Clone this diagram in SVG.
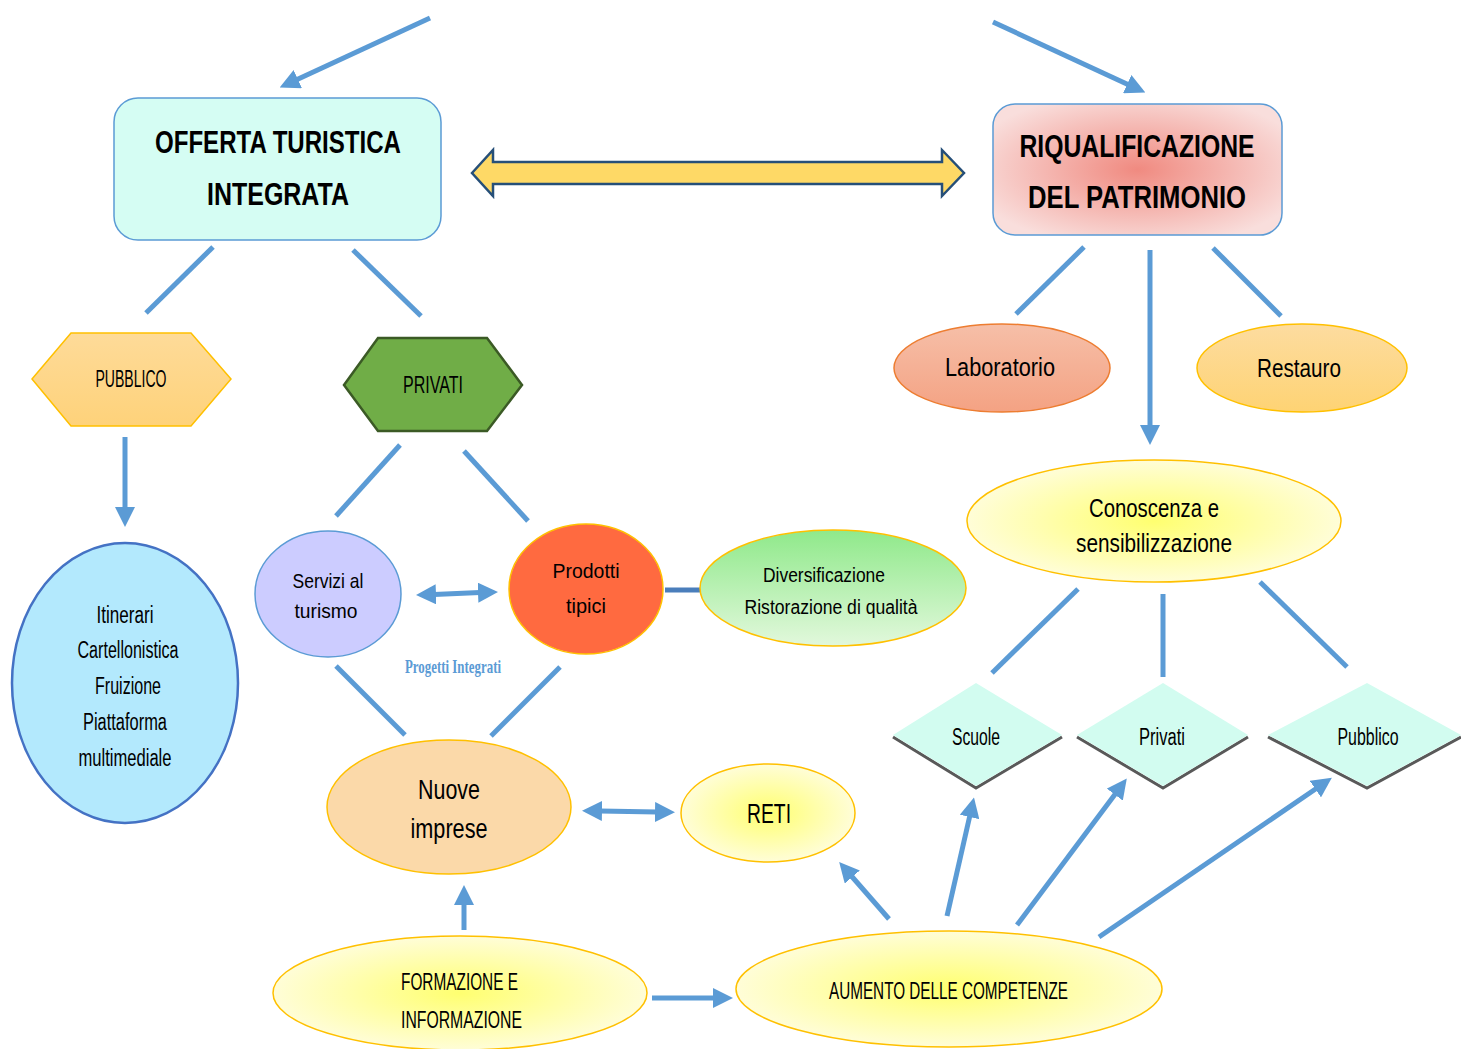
<svg xmlns="http://www.w3.org/2000/svg" width="1461" height="1049" viewBox="0 0 1461 1049">
<style>
  text { font-family: "Liberation Sans", Arial, sans-serif; fill: #000; text-anchor: middle; }
  .b { font-weight: bold; }
  .ln { stroke: #5b9bd5; stroke-width: 5; fill: none; }
  .ar { stroke: #5b9bd5; stroke-width: 5; fill: none; marker-end: url(#ah); }
  .da { stroke: #5b9bd5; stroke-width: 5; fill: none; marker-end: url(#ah); marker-start: url(#ahs); }
  .yel { fill: url(#gYel); stroke: #ffc000; stroke-width: 1.5; }
  .dia { fill: #d2fcf0; }
  .sh { fill: none; stroke: #595959; stroke-width: 3; }
</style>
<defs>
  <marker id="ah" viewBox="0 0 10 10" refX="1" refY="5" markerWidth="4" markerHeight="4" orient="auto" markerUnits="strokeWidth">
    <path d="M0,0 L10,5 L0,10 z" fill="#5b9bd5"/>
  </marker>
  <marker id="ahs" viewBox="0 0 10 10" refX="1" refY="5" markerWidth="4" markerHeight="4" orient="auto-start-reverse" markerUnits="strokeWidth">
    <path d="M0,0 L10,5 L0,10 z" fill="#5b9bd5"/>
  </marker>
  <radialGradient id="gRiq" cx="50%" cy="50%" r="60%">
    <stop offset="0" stop-color="#f08a80"/>
    <stop offset="1" stop-color="#f9dedc"/>
  </radialGradient>
  <radialGradient id="gYel" cx="50%" cy="50%" r="55%">
    <stop offset="0" stop-color="#ffff70"/>
    <stop offset="1" stop-color="#fffde2"/>
  </radialGradient>
  <linearGradient id="gLab" x1="0" y1="0" x2="0" y2="1">
    <stop offset="0" stop-color="#f6bfa8"/>
    <stop offset="1" stop-color="#f4a283"/>
  </linearGradient>
  <linearGradient id="gRes" x1="0" y1="0" x2="0" y2="1">
    <stop offset="0" stop-color="#fddca0"/>
    <stop offset="1" stop-color="#fed374"/>
  </linearGradient>
  <linearGradient id="gDiv" x1="0" y1="0" x2="0" y2="1">
    <stop offset="0" stop-color="#8fe98a"/>
    <stop offset="1" stop-color="#e2f8dc"/>
  </linearGradient>
  <linearGradient id="gPub" x1="0" y1="0" x2="0" y2="1">
    <stop offset="0" stop-color="#fedb99"/>
    <stop offset="1" stop-color="#fed27a"/>
  </linearGradient>
</defs>

<g id="connectors">
  <line class="ar" x1="430" y1="18" x2="296" y2="80"/>
  <line class="ar" x1="993" y1="22" x2="1129" y2="85"/>
  <line class="ln" x1="213" y1="247" x2="146" y2="313"/>
  <line class="ln" x1="353" y1="250" x2="421" y2="316"/>
  <line class="ar" x1="125" y1="437" x2="125" y2="509"/>
  <line class="ln" x1="400" y1="445" x2="336" y2="516"/>
  <line class="ln" x1="464" y1="451" x2="528" y2="521"/>
  <line class="da" x1="434" y1="594.4" x2="480" y2="592.6"/>
  <line x1="665" y1="590" x2="702" y2="590" stroke="#4a7ebb" stroke-width="5"/>
  <line class="ln" x1="336" y1="666" x2="405" y2="735"/>
  <line class="ln" x1="560" y1="667" x2="491" y2="736"/>
  <line class="da" x1="600" y1="811" x2="657" y2="812"/>
  <line class="ar" x1="464" y1="930" x2="464" y2="903"/>
  <line class="ar" x1="652" y1="998" x2="715" y2="998"/>
  <line class="ar" x1="889" y1="919" x2="851" y2="875.5"/>
  <line class="ar" x1="947" y1="916" x2="970" y2="815"/>
  <line class="ar" x1="1017" y1="925" x2="1116" y2="793"/>
  <line class="ar" x1="1099" y1="937" x2="1317" y2="788"/>
  <line class="ln" x1="1084" y1="247" x2="1016" y2="314"/>
  <line class="ln" x1="1213" y1="248" x2="1281" y2="316"/>
  <line class="ar" x1="1150" y1="250" x2="1150" y2="427"/>
  <line class="ln" x1="1078" y1="589" x2="992" y2="673"/>
  <line class="ln" x1="1163" y1="594" x2="1163" y2="677"/>
  <line class="ln" x1="1260" y1="582" x2="1347" y2="667"/>
  <path d="M472,173 L493,150 L493,162 L942,162 L942,150 L964,173 L942,196 L942,184 L493,184 L493,196 Z" fill="#fed966" stroke="#264f78" stroke-width="2.5" stroke-linejoin="miter"/>
</g>

<g id="offerta">
  <rect x="114" y="98" width="327" height="142" rx="24" fill="#d5fdf3" stroke="#5b9bd5" stroke-width="1.5"/>
  <text class="b" x="278" y="153" font-size="32" textLength="246" lengthAdjust="spacingAndGlyphs">OFFERTA TURISTICA</text>
  <text class="b" x="278" y="205" font-size="32" textLength="142" lengthAdjust="spacingAndGlyphs">INTEGRATA</text>
</g>

<g id="riqualificazione">
  <rect x="993" y="104" width="289" height="131" rx="22" fill="url(#gRiq)" stroke="#5b9bd5" stroke-width="1.5"/>
  <text class="b" x="1137" y="157" font-size="32" textLength="235" lengthAdjust="spacingAndGlyphs">RIQUALIFICAZIONE</text>
  <text class="b" x="1137" y="208" font-size="32" textLength="218" lengthAdjust="spacingAndGlyphs">DEL PATRIMONIO</text>
</g>

<g id="pubblico">
  <polygon points="32,379 71,333 191,333 231,379 191,426 71,426" fill="url(#gPub)" stroke="#ffc000" stroke-width="1.5"/>
  <text x="131" y="387" font-size="24" textLength="71" lengthAdjust="spacingAndGlyphs">PUBBLICO</text>
</g>

<g id="privati">
  <polygon points="344,385 378,338 487,338 522,385 487,431 378,431" fill="#70ad47" stroke="#3b5a25" stroke-width="2.5"/>
  <text x="433" y="393" font-size="24" textLength="60" lengthAdjust="spacingAndGlyphs">PRIVATI</text>
</g>

<g id="itinerari">
  <ellipse cx="125" cy="683" rx="113" ry="140" fill="#b3e9fd" stroke="#4472c4" stroke-width="2.5"/>
  <text x="125" y="623" font-size="23" textLength="57" lengthAdjust="spacingAndGlyphs">Itinerari</text>
  <text x="128" y="658" font-size="23" textLength="101" lengthAdjust="spacingAndGlyphs">Cartellonistica</text>
  <text x="128" y="694" font-size="23" textLength="66" lengthAdjust="spacingAndGlyphs">Fruizione</text>
  <text x="125" y="730" font-size="23" textLength="84" lengthAdjust="spacingAndGlyphs">Piattaforma</text>
  <text x="125" y="766" font-size="23" textLength="93" lengthAdjust="spacingAndGlyphs">multimediale</text>
</g>

<g id="servizi">
  <ellipse cx="328" cy="594" rx="73" ry="63" fill="#ccccff" stroke="#5b9bd5" stroke-width="1.5"/>
  <text x="328" y="588" font-size="21" textLength="71" lengthAdjust="spacingAndGlyphs">Servizi al</text>
  <text x="326" y="618" font-size="21" textLength="63" lengthAdjust="spacingAndGlyphs">turismo</text>
</g>

<g id="prodotti">
  <ellipse cx="586" cy="589" rx="77" ry="65" fill="#ff6a40" stroke="#ffc000" stroke-width="1.5"/>
  <text x="586" y="578" font-size="21" textLength="67" lengthAdjust="spacingAndGlyphs">Prodotti</text>
  <text x="586" y="613" font-size="21" textLength="40" lengthAdjust="spacingAndGlyphs">tipici</text>
</g>

<g id="diversificazione">
  <ellipse cx="833" cy="588" rx="133" ry="58" fill="url(#gDiv)" stroke="#ffc000" stroke-width="1.5"/>
  <text x="824" y="582" font-size="20" textLength="122" lengthAdjust="spacingAndGlyphs">Diversificazione</text>
  <text x="831" y="614" font-size="20" textLength="173" lengthAdjust="spacingAndGlyphs">Ristorazione di qualità</text>
</g>

<g id="progetti">
  <text x="453" y="673" font-size="19" font-family="'Liberation Serif', 'Times New Roman', serif" style="font-family:'Liberation Serif','Times New Roman',serif;fill:#5b9bd5" font-weight="bold" textLength="96" lengthAdjust="spacingAndGlyphs">Progetti Integrati</text>
</g>

<g id="nuove">
  <ellipse cx="449" cy="807" rx="122" ry="67" fill="#fbd9a9" stroke="#ffc000" stroke-width="1.5"/>
  <text x="449" y="799" font-size="27" textLength="62" lengthAdjust="spacingAndGlyphs">Nuove</text>
  <text x="449" y="838" font-size="27" textLength="77" lengthAdjust="spacingAndGlyphs">imprese</text>
</g>

<g id="reti">
  <ellipse cx="768" cy="813" rx="87" ry="49" class="yel"/>
  <text x="769" y="823" font-size="28" textLength="44" lengthAdjust="spacingAndGlyphs">RETI</text>
</g>

<g id="formazione">
  <ellipse cx="460" cy="993" rx="187" ry="57" class="yel"/>
  <text x="459.5" y="990" font-size="24" textLength="117" lengthAdjust="spacingAndGlyphs">FORMAZIONE E</text>
  <text x="461.5" y="1028" font-size="24" textLength="121" lengthAdjust="spacingAndGlyphs">INFORMAZIONE</text>
</g>

<g id="aumento">
  <ellipse cx="949" cy="989" rx="213" ry="58" class="yel"/>
  <text x="948.5" y="999" font-size="24" textLength="239" lengthAdjust="spacingAndGlyphs">AUMENTO DELLE COMPETENZE</text>
</g>

<g id="laboratorio">
  <ellipse cx="1002" cy="368" rx="108" ry="44" fill="url(#gLab)" stroke="#ed7d31" stroke-width="1.5"/>
  <text x="1000" y="376" font-size="26" textLength="110" lengthAdjust="spacingAndGlyphs">Laboratorio</text>
</g>

<g id="restauro">
  <ellipse cx="1302" cy="368" rx="105" ry="44" fill="url(#gRes)" stroke="#ffc000" stroke-width="1.5"/>
  <text x="1299" y="377" font-size="26" textLength="84" lengthAdjust="spacingAndGlyphs">Restauro</text>
</g>

<g id="conoscenza">
  <ellipse cx="1154" cy="521" rx="187" ry="61" class="yel"/>
  <text x="1154" y="517" font-size="25" textLength="130" lengthAdjust="spacingAndGlyphs">Conoscenza e</text>
  <text x="1154" y="552" font-size="25" textLength="156" lengthAdjust="spacingAndGlyphs">sensibilizzazione</text>
</g>

<g id="scuole">
  <polyline class="sh" points="893,737 976,788 1062,737"/>
  <polygon class="dia" points="976,683 1062,735 976,786 893,735"/>
  <text x="976" y="745" font-size="23" textLength="48" lengthAdjust="spacingAndGlyphs">Scuole</text>
</g>

<g id="privati2">
  <polyline class="sh" points="1077,737 1163,788 1248,737"/>
  <polygon class="dia" points="1163,683 1248,735 1163,786 1077,735"/>
  <text x="1162" y="745" font-size="23" textLength="46" lengthAdjust="spacingAndGlyphs">Privati</text>
</g>

<g id="pubblico2">
  <polyline class="sh" points="1268,737 1367,788 1461,737"/>
  <polygon class="dia" points="1367,683 1461,735 1367,786 1268,735"/>
  <text x="1368" y="745" font-size="23" textLength="61" lengthAdjust="spacingAndGlyphs">Pubblico</text>
</g>
</svg>
